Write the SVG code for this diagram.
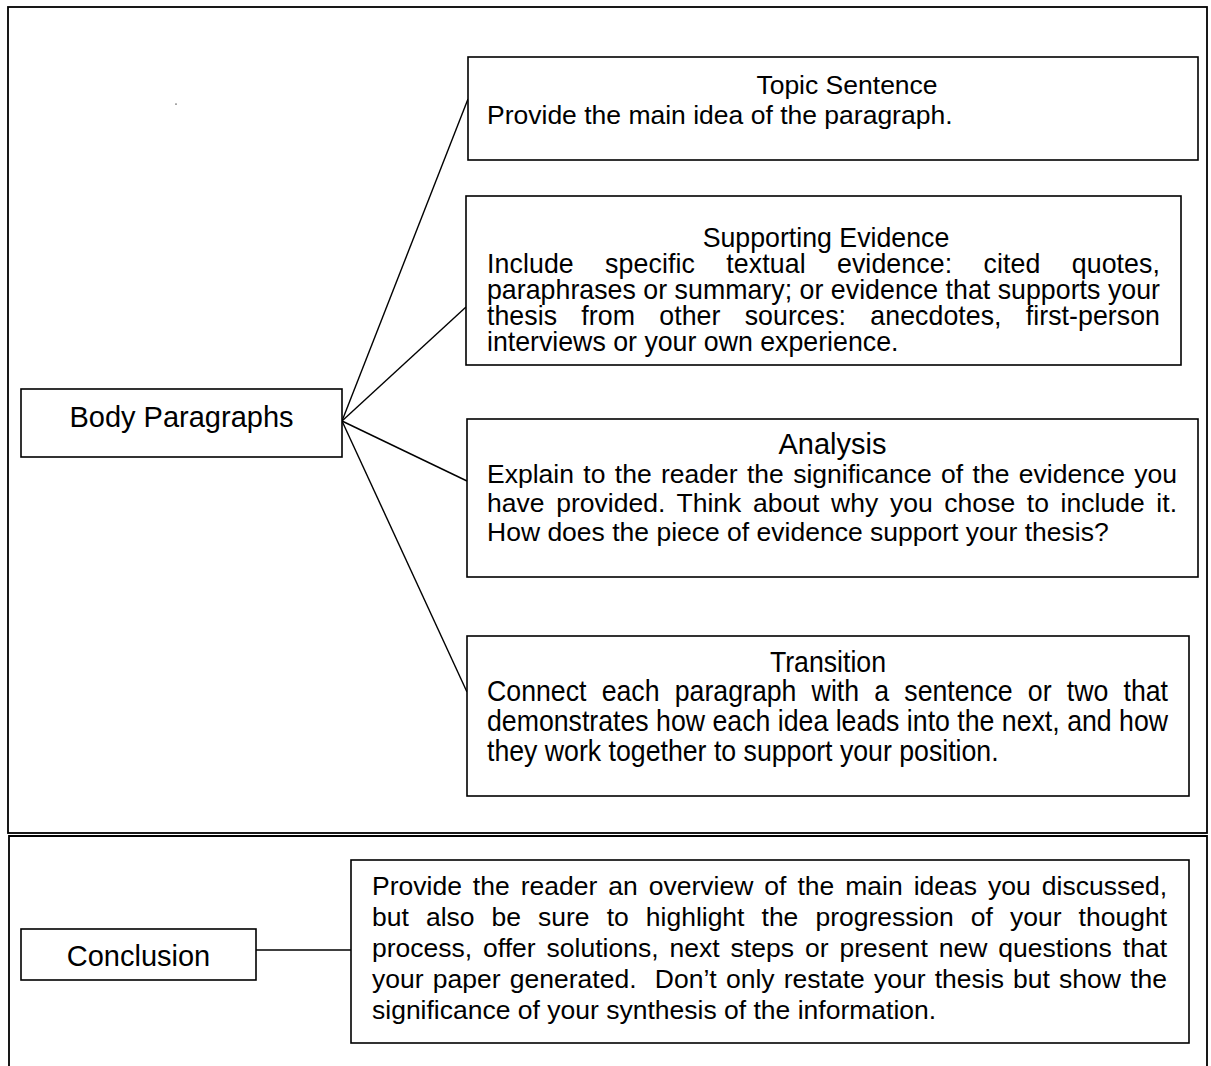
<svg xmlns="http://www.w3.org/2000/svg" width="1211" height="1066" viewBox="0 0 1211 1066">
<style>
.frame{fill:none;stroke:#000;stroke-width:1.8}
.box{fill:#fff;stroke:#000;stroke-width:1.6}
.conn{fill:none;stroke:#000;stroke-width:1.4}
text{font-family:"Liberation Sans",Arial,sans-serif;fill:#000}
.b{font-size:26.5px}
.h{font-size:29px}
.n{font-size:30px}
.s{font-size:27px}
.pre{white-space:pre}
</style>
<rect width="1211" height="1066" fill="#fff"/>
<g id="frames">
<rect class="frame" x="8" y="7" width="1199" height="826"/>
<path class="frame" d="M9 1070 V836 H1207 V1070"/>
<rect x="175.5" y="103.5" width="1" height="1.2" fill="#000"/>
</g>
<g id="connectors">
<line class="conn" x1="342" y1="421" x2="468" y2="99"/>
<line class="conn" x1="342" y1="421" x2="466" y2="307"/>
<line class="conn" x1="342" y1="421" x2="467" y2="481"/>
<line class="conn" x1="342" y1="421" x2="467" y2="692"/>
<line class="conn" x1="256" y1="950" x2="351" y2="950"/>
</g>
<g id="body-paragraphs">
<rect class="box" x="21" y="389" width="321" height="68"/>
<text class="h" x="181.5" y="427" text-anchor="middle">Body Paragraphs</text>
</g>
<g id="topic-sentence">
<rect class="box" x="468" y="57" width="730" height="103"/>
<text class="b" x="847" y="94" text-anchor="middle">Topic Sentence</text>
<text class="b" x="487" y="124">Provide the main idea of the paragraph.</text>
</g>
<g id="supporting-evidence">
<rect class="box" x="466" y="196" width="715" height="169"/>
<g transform="scale(0.99 1)">
<text class="s" x="834.3" y="247" text-anchor="middle">Supporting Evidence</text>
<text class="s" x="491.9" y="273" word-spacing="24" textLength="679.8">Include specific textual evidence: cited quotes,</text>
<text class="s" x="491.9" y="299" textLength="679.8">paraphrases or summary; or evidence that supports your</text>
<text class="s" x="491.9" y="325" word-spacing="17" textLength="679.8">thesis from other sources: anecdotes, first-person</text>
<text class="s" x="491.9" y="351">interviews or your own experience.</text>
</g>
</g>
<g id="analysis">
<rect class="box" x="467" y="419" width="731" height="158"/>
<text class="h" x="832.5" y="454" text-anchor="middle">Analysis</text>
<text class="b" x="487" y="483" word-spacing="2" textLength="690">Explain to the reader the significance of the evidence you</text>
<text class="b" x="487" y="512" word-spacing="4.3" textLength="690">have provided. Think about why you chose to include it.</text>
<text class="b" x="487" y="541">How does the piece of evidence support your thesis?</text>
</g>
<g id="transition">
<rect class="box" x="467" y="636" width="722" height="160"/>
<g transform="scale(0.89 1)">
<text class="n" x="930.3" y="672" text-anchor="middle">Transition</text>
<text class="n" x="547.2" y="701" word-spacing="8.7" textLength="765.2">Connect each paragraph with a sentence or two that</text>
<text class="n" x="547.2" y="731" textLength="765.2">demonstrates how each idea leads into the next, and how</text>
<text class="n" x="547.2" y="761">they work together to support your position.</text>
</g>
</g>
<g id="conclusion">
<rect class="box" x="21" y="929" width="235" height="51"/>
<text class="h" x="138.5" y="966" text-anchor="middle">Conclusion</text>
</g>
<g id="conclusion-detail">
<rect class="box" x="351" y="860" width="838" height="183"/>
<text class="b" x="372" y="895" word-spacing="3.6" textLength="795">Provide the reader an overview of the main ideas you discussed,</text>
<text class="b" x="372" y="926" word-spacing="9.7" textLength="795">but also be sure to highlight the progression of your thought</text>
<text class="b" x="372" y="957" word-spacing="3.6" textLength="795">process, offer solutions, next steps or present new questions that</text>
<text class="b pre" x="372" y="988" word-spacing="1.8" textLength="795">your paper generated.  Don’t only restate your thesis but show the</text>
<text class="b" x="372" y="1019">significance of your synthesis of the information.</text>
</g>
</svg>
